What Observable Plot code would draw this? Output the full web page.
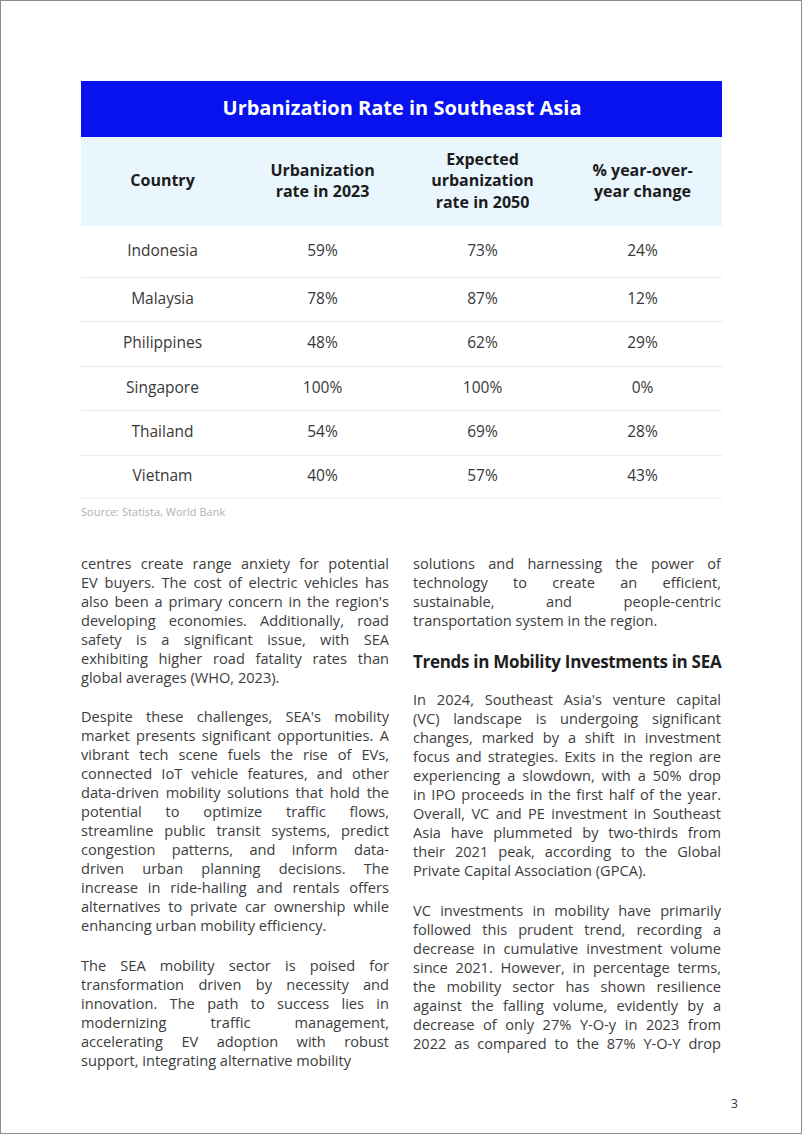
<!DOCTYPE html>
<html>
<head>
<meta charset="utf-8">
<script src="https://cdn.jsdelivr.net/npm/d3@7"></script>
<script src="https://cdn.jsdelivr.net/npm/@observablehq/plot@0.6"></script>
<style>
  html, body { margin: 0; padding: 0; background: #fff; }
  #page {
    position: relative; width: 802px; height: 1134px; box-sizing: border-box;
    border: 1px solid #8c8c8c; background: #fff; overflow: hidden;
    font-family: "Open Sans", "Noto Sans", sans-serif;
  }
  #chart { position: absolute; left: 80px; top: 80px; }
  #source { position: absolute; left: 80px; top: 503px; font-size: 11px; color: #b0b0b0; }
  .block { position: absolute; width: 308px; font-size: 14.6px; color: #3d3d3d; }
  .line { height: 19px; line-height: 19px; white-space: nowrap; }
  .just { text-align: justify; text-align-last: justify; white-space: normal; overflow: hidden; }
  .heading { position: absolute; left: 412px; top: 649px; font-size: 17px; font-weight: 700; color: #1e1e1e; letter-spacing: -0.3px; line-height: 24px; }
  #pageno { position: absolute; left: 730px; top: 1094px; font-size: 12px; color: #333; }
</style>
</head>
<body>
<div id="page">
  <div id="chart"></div>
  <div id="source"></div>
  <div id="text"></div>
  <div class="heading" id="heading"></div>
  <div id="pageno"></div>
</div>
<script>
// ---- data ----
const tableTitle = "Urbanization Rate in Southeast Asia";
const columnKeys = ["country", "rate2023", "rate2050", "change"];
const columnLabels = ["Country", "Urbanization\nrate in 2023", "Expected\nurbanization\nrate in 2050", "% year-over-\nyear change"];
const countries = ["Indonesia", "Malaysia", "Philippines", "Singapore", "Thailand", "Vietnam"];
const urbanization2023 = [59, 78, 48, 100, 54, 40];
const urbanization2050 = [73, 87, 62, 100, 69, 57];
const yoyChange = [24, 12, 29, 0, 28, 43];
const sourceNote = "Source: Statista, World Bank";

// ---- layout (band heights in px) ----
const titleBand = 56, headerBand = 89;
const rowHeights = [51, 44, 45, 44, 45, 43];

const rows = [];
let acc = titleBand + headerBand;
countries.forEach((c, i) => {
  rows.push({ country: c, y1: acc, y2: acc + rowHeights[i], yc: acc + rowHeights[i] / 2 - 0.5,
    values: [c, urbanization2023[i] + "%", urbanization2050[i] + "%", yoyChange[i] + "%"] });
  acc += rowHeights[i];
});
const totalH = acc;
const cells = rows.flatMap(r => columnKeys.map((k, j) => ({ col: k, yc: r.yc, label: r.values[j] })));
const headerCells = columnKeys.map((k, j) => ({ col: k, label: columnLabels[j], yc: titleBand + headerBand / 2 - 2.5 }));
const bands = [
  { y1: 0, y2: titleBand, fill: "#0712ef" },
  { y1: titleBand, y2: titleBand + headerBand, fill: "#e9f6fd" }
];

const chart = Plot.plot({
  width: 641,
  height: totalH + 1,
  margin: 0,
  style: { fontFamily: "'Open Sans', 'Noto Sans', sans-serif", background: "transparent" },
  x: { type: "band", domain: columnKeys, padding: 0, axis: null },
  y: { domain: [0, totalH + 1], range: [0, totalH + 1], axis: null },
  marks: [
    Plot.rect(bands, { y1: "y1", y2: "y2", fill: "fill" }),
    Plot.ruleY(rows, { y: "y2", stroke: "#ebedef", strokeWidth: 1.3 }),
    Plot.text([tableTitle], { y: () => titleBand / 2 - 0.5, text: d => d, fill: "#ffffff", fontSize: 20, fontWeight: 700 }),
    Plot.text(headerCells, { x: "col", y: "yc", text: "label", fontSize: 16, fontWeight: 700, fill: "#1c1c1c", lineHeight: 1.36 }),
    Plot.text(cells, { x: "col", y: "yc", text: "label", fontSize: 15.5, fontWeight: 400, fill: "#383838" })
  ]
});
document.getElementById("chart").appendChild(chart);
document.getElementById("source").textContent = sourceNote;
document.getElementById("heading").textContent = "Trends in Mobility Investments in SEA";
document.getElementById("pageno").textContent = "3";

// ---- body text (line breaks follow the reference); "|" prefix = not justified ----
const blocks = [
  { left: 80, top: 552.5, lines: [
    "centres create range anxiety for potential",
    "EV buyers. The cost of electric vehicles has",
    "also been a primary concern in the region's",
    "developing economies. Additionally, road",
    "safety is a significant issue, with SEA",
    "exhibiting higher road fatality rates than",
    "|global averages (WHO, 2023)."] },
  { left: 80, top: 705.5, lines: [
    "Despite these challenges, SEA's mobility",
    "market presents significant opportunities. A",
    "vibrant tech scene fuels the rise of EVs,",
    "connected IoT vehicle features, and other",
    "data-driven mobility solutions that hold the",
    "potential to optimize traffic flows,",
    "streamline public transit systems, predict",
    "congestion patterns, and inform data-",
    "driven urban planning decisions. The",
    "increase in ride-hailing and rentals offers",
    "alternatives to private car ownership while",
    "|enhancing urban mobility efficiency."] },
  { left: 80, top: 954.5, lines: [
    "The SEA mobility sector is poised for",
    "transformation driven by necessity and",
    "innovation. The path to success lies in",
    "modernizing traffic management,",
    "accelerating EV adoption with robust",
    "|support, integrating alternative mobility"] },
  { left: 412, top: 552.5, lines: [
    "solutions and harnessing the power of",
    "technology to create an efficient,",
    "sustainable, and people-centric",
    "|transportation system in the region."] },
  { left: 412, top: 688.5, lines: [
    "In 2024, Southeast Asia's venture capital",
    "(VC) landscape is undergoing significant",
    "changes, marked by a shift in investment",
    "focus and strategies. Exits in the region are",
    "experiencing a slowdown, with a 50% drop",
    "in IPO proceeds in the first half of the year.",
    "Overall, VC and PE investment in Southeast",
    "Asia have plummeted by two-thirds from",
    "their 2021 peak, according to the Global",
    "|Private Capital Association (GPCA)."] },
  { left: 412, top: 899.5, lines: [
    "VC investments in mobility have primarily",
    "followed this prudent trend, recording a",
    "decrease in cumulative investment volume",
    "since 2021.  However, in percentage terms,",
    "the mobility sector has shown resilience",
    "against the falling volume, evidently by a",
    "decrease of only 27% Y-O-y in 2023 from",
    "2022 as compared to the 87% Y-O-Y drop"] }
];
const textRoot = document.getElementById("text");
blocks.forEach(b => {
  const div = document.createElement("div");
  div.className = "block";
  div.style.left = b.left + "px";
  div.style.top = b.top + "px";
  b.lines.forEach(l => {
    const ln = document.createElement("div");
    const plain = l.startsWith("|");
    ln.className = plain ? "line" : "line just";
    ln.textContent = plain ? l.slice(1) : l;
    div.appendChild(ln);
  });
  textRoot.appendChild(div);
});
</script>
</body>
</html>
